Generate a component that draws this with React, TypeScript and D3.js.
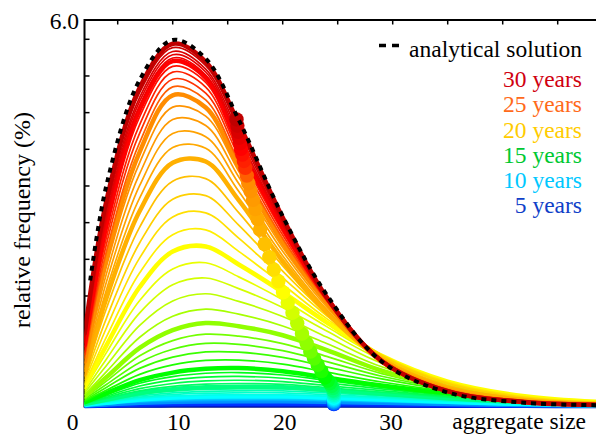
import React from "react";
import * as d3 from "d3";

// aggregate sizes at which every curve is sampled
const SIZES = [2, 4, 7, 10, 13, 16, 20, 24, 29, 35, 42, 49];

// simulated time of each curve (years)
const YEARS = [
  0, 0.5, 1, 1.5, 2, 2.5, 3, 3.5, 4, 4.5, 5, 5.5, 6, 6.5, 7, 7.5, 8, 8.5, 9, 9.5,
  10, 10.5, 11, 11.5, 12, 12.5, 13, 13.5, 14, 14.5, 15, 15.5, 16, 16.5, 17, 17.5,
  18, 18.5, 19, 19.5, 20, 20.5, 21, 21.5, 22, 22.5, 23, 23.5, 24, 24.5, 25, 25.5,
  26, 26.5, 27, 27.5, 28, 28.5, 29, 29.5, 30,
];

// relative frequency (%) per curve, one row per year, one value per size
const FREQUENCY: number[][] = [
  [0, 0, 0, 0, 0, 0, 0, 0, 0, 0, 0, 0],
  [0, 0.001, 0.001, 0.002, 0.002, 0.002, 0.002, 0.002, 0.001, 0.001, 0, 0],
  [0, 0.001, 0.003, 0.003, 0.004, 0.004, 0.004, 0.003, 0.003, 0.002, 0.001, 0],
  [0.001, 0.002, 0.004, 0.005, 0.006, 0.006, 0.006, 0.005, 0.004, 0.003, 0.001, 0],
  [0.001, 0.003, 0.006, 0.008, 0.009, 0.009, 0.009, 0.008, 0.006, 0.004, 0.002, 0.001],
  [0.001, 0.004, 0.008, 0.01, 0.012, 0.012, 0.012, 0.01, 0.008, 0.005, 0.002, 0.001],
  [0.002, 0.005, 0.011, 0.014, 0.016, 0.016, 0.016, 0.014, 0.011, 0.007, 0.003, 0.001],
  [0.002, 0.007, 0.013, 0.017, 0.019, 0.02, 0.02, 0.017, 0.013, 0.009, 0.004, 0.001],
  [0.003, 0.008, 0.017, 0.022, 0.024, 0.025, 0.025, 0.022, 0.017, 0.011, 0.005, 0.002],
  [0.003, 0.01, 0.02, 0.026, 0.029, 0.03, 0.03, 0.026, 0.02, 0.013, 0.006, 0.002],
  [0.004, 0.012, 0.023, 0.03, 0.034, 0.035, 0.035, 0.03, 0.023, 0.015, 0.007, 0.002],
  [0.004, 0.014, 0.027, 0.036, 0.04, 0.041, 0.041, 0.036, 0.027, 0.018, 0.008, 0.003],
  [0.005, 0.016, 0.032, 0.042, 0.047, 0.048, 0.048, 0.042, 0.032, 0.021, 0.01, 0.003],
  [0.006, 0.018, 0.038, 0.049, 0.054, 0.056, 0.056, 0.049, 0.038, 0.024, 0.011, 0.004],
  [0.007, 0.022, 0.044, 0.057, 0.064, 0.066, 0.066, 0.057, 0.044, 0.028, 0.013, 0.005],
  [0.008, 0.025, 0.051, 0.066, 0.074, 0.076, 0.076, 0.066, 0.051, 0.033, 0.015, 0.005],
  [0.009, 0.029, 0.059, 0.077, 0.085, 0.088, 0.088, 0.077, 0.059, 0.038, 0.018, 0.006],
  [0.01, 0.033, 0.067, 0.087, 0.097, 0.1, 0.1, 0.087, 0.067, 0.043, 0.02, 0.007],
  [0.012, 0.038, 0.077, 0.1, 0.112, 0.115, 0.115, 0.1, 0.077, 0.049, 0.023, 0.008],
  [0.013, 0.043, 0.087, 0.113, 0.126, 0.13, 0.13, 0.113, 0.087, 0.056, 0.026, 0.009],
  [0.015, 0.05, 0.1, 0.131, 0.146, 0.15, 0.15, 0.131, 0.1, 0.065, 0.03, 0.011],
  [0.018, 0.058, 0.117, 0.152, 0.17, 0.175, 0.175, 0.152, 0.117, 0.075, 0.035, 0.012],
  [0.021, 0.068, 0.137, 0.178, 0.199, 0.205, 0.205, 0.178, 0.137, 0.088, 0.041, 0.014],
  [0.024, 0.078, 0.157, 0.204, 0.228, 0.235, 0.235, 0.204, 0.157, 0.101, 0.047, 0.016],
  [0.027, 0.087, 0.178, 0.231, 0.257, 0.265, 0.265, 0.231, 0.178, 0.114, 0.053, 0.019],
  [0.03, 0.099, 0.201, 0.261, 0.291, 0.3, 0.291, 0.249, 0.189, 0.12, 0.06, 0.021],
  [0.035, 0.116, 0.235, 0.305, 0.34, 0.35, 0.336, 0.285, 0.214, 0.136, 0.068, 0.025],
  [0.04, 0.134, 0.27, 0.35, 0.39, 0.4, 0.379, 0.318, 0.238, 0.15, 0.075, 0.028],
  [0.046, 0.155, 0.311, 0.403, 0.449, 0.46, 0.431, 0.359, 0.265, 0.167, 0.084, 0.032],
  [0.052, 0.176, 0.353, 0.457, 0.509, 0.52, 0.482, 0.397, 0.29, 0.183, 0.092, 0.035],
  [0.059, 0.201, 0.401, 0.519, 0.578, 0.59, 0.54, 0.44, 0.319, 0.201, 0.1, 0.04],
  [0.074, 0.247, 0.492, 0.639, 0.708, 0.714, 0.65, 0.527, 0.373, 0.229, 0.111, 0.045],
  [0.09, 0.293, 0.585, 0.76, 0.84, 0.836, 0.757, 0.609, 0.421, 0.251, 0.118, 0.048],
  [0.108, 0.339, 0.678, 0.883, 0.972, 0.957, 0.86, 0.689, 0.463, 0.266, 0.121, 0.05],
  [0.127, 0.39, 0.78, 1.017, 1.116, 1.085, 0.969, 0.771, 0.503, 0.278, 0.121, 0.05],
  [0.15, 0.452, 0.903, 1.18, 1.29, 1.24, 1.1, 0.87, 0.55, 0.29, 0.12, 0.05],
  [0.177, 0.538, 1.069, 1.395, 1.507, 1.427, 1.244, 0.971, 0.609, 0.317, 0.13, 0.054],
  [0.207, 0.634, 1.253, 1.633, 1.745, 1.626, 1.391, 1.071, 0.665, 0.343, 0.14, 0.058],
  [0.236, 0.736, 1.448, 1.884, 1.99, 1.824, 1.532, 1.164, 0.716, 0.362, 0.146, 0.06],
  [0.267, 0.838, 1.64, 2.13, 2.227, 2.007, 1.651, 1.234, 0.75, 0.374, 0.149, 0.06],
  [0.3, 0.95, 1.85, 2.4, 2.48, 2.2, 1.77, 1.3, 0.78, 0.38, 0.15, 0.06],
  [0.337, 1.082, 2.07, 2.663, 2.738, 2.404, 1.888, 1.358, 0.792, 0.375, 0.145, 0.057],
  [0.376, 1.224, 2.303, 2.939, 3.003, 2.609, 1.997, 1.403, 0.794, 0.364, 0.138, 0.052],
  [0.416, 1.373, 2.538, 3.214, 3.27, 2.812, 2.096, 1.436, 0.782, 0.347, 0.125, 0.046],
  [0.457, 1.528, 2.781, 3.495, 3.534, 3.006, 2.178, 1.449, 0.757, 0.317, 0.11, 0.038],
  [0.5, 1.69, 3.03, 3.78, 3.8, 3.2, 2.25, 1.45, 0.72, 0.28, 0.09, 0.028],
  [0.541, 1.819, 3.236, 4.017, 4.005, 3.337, 2.336, 1.502, 0.729, 0.278, 0.087, 0.027],
  [0.582, 1.943, 3.428, 4.237, 4.186, 3.458, 2.405, 1.541, 0.728, 0.272, 0.083, 0.025],
  [0.623, 2.07, 3.611, 4.453, 4.359, 3.562, 2.464, 1.572, 0.721, 0.264, 0.078, 0.023],
  [0.662, 2.186, 3.784, 4.646, 4.506, 3.649, 2.507, 1.594, 0.708, 0.253, 0.072, 0.021],
  [0.7, 2.3, 3.95, 4.83, 4.64, 3.72, 2.54, 1.61, 0.69, 0.24, 0.065, 0.018],
  [0.749, 2.416, 4.097, 4.96, 4.757, 3.804, 2.604, 1.632, 0.699, 0.24, 0.064, 0.018],
  [0.803, 2.53, 4.242, 5.08, 4.862, 3.886, 2.657, 1.651, 0.701, 0.239, 0.064, 0.017],
  [0.851, 2.637, 4.375, 5.19, 4.956, 3.955, 2.709, 1.666, 0.706, 0.237, 0.063, 0.017],
  [0.903, 2.74, 4.499, 5.28, 5.032, 4.013, 2.746, 1.674, 0.702, 0.234, 0.062, 0.016],
  [0.95, 2.84, 4.61, 5.36, 5.1, 4.06, 2.78, 1.68, 0.7, 0.23, 0.06, 0.016],
  [0.985, 2.911, 4.674, 5.41, 5.145, 4.122, 2.808, 1.677, 0.703, 0.23, 0.061, 0.016],
  [1.021, 2.981, 4.739, 5.46, 5.192, 4.182, 2.834, 1.682, 0.699, 0.23, 0.061, 0.016],
  [1.052, 3.053, 4.799, 5.51, 5.235, 4.248, 2.865, 1.681, 0.7, 0.23, 0.062, 0.017],
  [1.092, 3.13, 4.874, 5.57, 5.292, 4.317, 2.896, 1.688, 0.696, 0.23, 0.061, 0.017],
  [1.13, 3.21, 4.95, 5.63, 5.35, 4.39, 2.93, 1.69, 0.7, 0.23, 0.062, 0.017],
];

// analytical (steady state) solution
const ANALYTIC_SIZES = [2.5, 4, 7, 10, 13, 16, 20, 24, 29, 35, 42, 49];
const ANALYTIC_FREQ = [1.95, 3.45, 5.07, 5.69, 5.4, 4.45, 2.95, 1.73, 0.69, 0.21, 0.05, 0.012];

// mean aggregate size marked by a dot on each curve
const DOT_YEARS = [
  5, 5.5, 6, 6.5, 7, 7.5, 8, 8.5, 9, 9.5, 10, 10.5, 11, 11.5, 12, 12.5, 13, 13.5,
  14, 14.5, 15, 15.5, 16, 16.5, 17, 17.5, 18, 18.5, 19, 19.5, 20, 20.5, 21, 21.5,
  22, 22.5, 23, 23.5, 24, 24.5, 25, 25.5, 26, 26.5, 27, 27.5, 28, 28.5, 29, 29.5, 30,
];
const MEAN_SIZE = [
  24.65, 24.65, 24.65, 24.65, 24.65, 24.65, 24.65, 24.65, 24.65, 24.65, 24.65, 24.65,
  24.65, 24.65, 24.65, 24.6, 24.55, 24.45, 24.3, 24.1, 23.85, 23.52, 23.18, 22.85,
  22.51, 22.18, 21.75, 21.32, 20.89, 20.46, 20.03, 19.61, 19.19, 18.78, 18.36, 17.94,
  17.73, 17.51, 17.3, 17.08, 16.87, 16.74, 16.6, 16.47, 16.33, 16.2, 16.12, 16.04,
  15.96, 15.88, 15.8,
];

// legend
const LEGEND_LABELS = ["30 years", "25 years", "20 years", "15 years", "10 years", "5 years"];
const LEGEND_COLORS = ["#d00010", "#ff6a1a", "#ffcc00", "#00c832", "#00c8ff", "#1040c8"];

// colour ramp through time
const RAMP_YEARS = [0, 5, 7.5, 10, 12.5, 15, 17.5, 20, 22.5, 25, 26, 27.5, 30];
const RAMP_COLORS = [
  "#0000a0", "#0030ff", "#0090ff", "#00ffff", "#00ff80", "#00ff00", "#90ff00",
  "#ffff00", "#ffb000", "#ff8c00", "#ff3000", "#ff0000", "#c00000",
];

// axes
const X_TICKS = [5, 10, 15, 20, 25, 30, 35, 40, 45];
const X_LABELS = [0, 10, 20, 30];
const Y_TICKS = [0, 0.57, 1.14, 1.71, 2.28, 2.85, 3.42, 3.99, 4.56, 5.13, 5.7];
const Y_TOP_LABEL = "6.0";

const FONT =
  '"Liberation Serif", "Tinos", "Noto Serif", "DejaVu Serif", "Times New Roman", Times, serif';

export default function App() {
  const W = 596;
  const H = 434;
  const left = 84.5;
  const top = 20;
  const bottom = 406.5;

  const x = d3.scaleLinear().domain([2, 50]).range([84.7, 612.7]);
  const y = d3.scaleLinear().domain([0, 6]).range([406, 20]);
  const xLabel = d3.scaleLinear().domain([0, 30]).range([72.5, 391]);
  const color = d3
    .scaleLinear<string>()
    .domain(RAMP_YEARS)
    .range(RAMP_COLORS)
    .interpolate(d3.interpolateRgb);

  const line = d3
    .line<[number, number]>()
    .x((d) => x(d[0]))
    .y((d) => y(d[1]))
    .curve(d3.curveCatmullRom.alpha(0.5));

  const isThick = (t: number) => t > 0 && Math.abs(t / 2.5 - Math.round(t / 2.5)) < 1e-6;

  const dots = DOT_YEARS.map((t, i) => {
    const row = FREQUENCY[YEARS.indexOf(t)];
    const f = d3.scaleLinear().domain(SIZES).range(row)(MEAN_SIZE[i]);
    return { t, cx: x(MEAN_SIZE[i]), cy: y(f) };
  });

  const txt = { fontFamily: FONT };

  return (
    <svg
      width={W}
      height={H}
      style={{ position: "absolute", left: 0, top: 0, background: "#fff" }}
    >
      <defs>
        <clipPath id="plot">
          <rect x={left} y={top} width={W - left} height={409 - top} />
        </clipPath>
      </defs>

      {/* frame */}
      <line x1={left} x2={W} y1={top} y2={top} stroke="#000" strokeWidth={2} />
      <line x1={left} x2={left} y1={top - 1} y2={bottom + 1} stroke="#000" strokeWidth={2} />
      <line x1={left} x2={W} y1={bottom} y2={bottom} stroke="#000" strokeWidth={2} />
      {X_TICKS.map((v) => (
        <g key={"xt" + v}>
          <line x1={x(v)} x2={x(v)} y1={top} y2={top + 4.5} stroke="#000" strokeWidth={1.5} />
          <line x1={x(v)} x2={x(v)} y1={bottom} y2={bottom - 4.5} stroke="#000" strokeWidth={1.5} />
        </g>
      ))}
      {Y_TICKS.map((v) => (
        <line key={"yt" + v} x1={left} x2={left + 5} y1={y(v)} y2={y(v)} stroke="#000" strokeWidth={1.5} />
      ))}

      {/* curves */}
      <g clipPath="url(#plot)" fill="none" strokeLinejoin="round" strokeLinecap="round">
        {YEARS.map((t, i) => (
          <path
            key={"c" + t}
            d={line(SIZES.map((s, j) => [s, FREQUENCY[i][j]] as [number, number])) || ""}
            stroke={color(t)}
            strokeWidth={isThick(t) ? 4.5 : 1.7}
          />
        ))}
      </g>
      {dots.map((d) => (
        <circle key={"d" + d.t} cx={d.cx} cy={d.cy} r={7.2} fill={color(d.t)} />
      ))}
      <g clipPath="url(#plot)" fill="none">
        <path
          d={line(ANALYTIC_SIZES.map((s, j) => [s, ANALYTIC_FREQ[j]] as [number, number])) || ""}
          stroke="#000"
          strokeWidth={4}
          strokeDasharray="5 5"
        />
      </g>

      {/* axis labels */}
      <text x={79} y={28.5} fontSize={23.5} textAnchor="end" fill="#000" style={txt}>
        {Y_TOP_LABEL}
      </text>
      {X_LABELS.map((v) => (
        <text key={"xl" + v} x={xLabel(v)} y={430} fontSize={23.5} textAnchor="middle" fill="#000" style={txt}>
          {v}
        </text>
      ))}
      <text x={586} y={429} fontSize={23.5} textAnchor="end" fill="#000" style={txt}>
        aggregate size
      </text>
      <text
        transform="translate(30,220) rotate(-90)"
        fontSize={24}
        textAnchor="middle"
        fill="#000"
        style={txt}
      >
        relative frequency (%)
      </text>

      {/* legend */}
      <line x1={379} x2={399} y1={45.5} y2={45.5} stroke="#000" strokeWidth={3.5} strokeDasharray="7 6" />
      <text x={582} y={56.5} fontSize={23.5} textAnchor="end" fill="#000" style={txt}>
        analytical solution
      </text>
      {LEGEND_LABELS.map((lab, i) => (
        <text
          key={lab}
          x={582}
          y={87.3 + i * 25.1}
          fontSize={23.5}
          textAnchor="end"
          fill={LEGEND_COLORS[i]}
          style={txt}
        >
          {lab}
        </text>
      ))}
    </svg>
  );
}
